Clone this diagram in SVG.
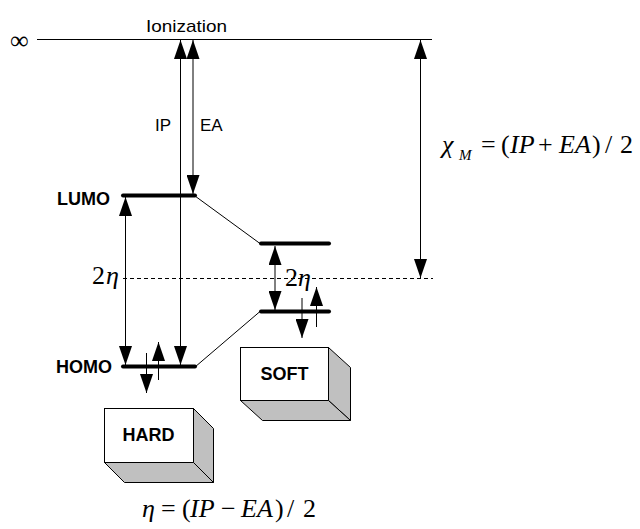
<svg xmlns="http://www.w3.org/2000/svg" width="640" height="529" viewBox="0 0 640 529">
<style>
.thin{stroke:#000;stroke-width:1;fill:none}
.lvl{stroke:#000;stroke-width:4;stroke-linecap:round;fill:none}
.arr{stroke:#000;stroke-width:1;fill:none;marker-end:url(#ah)}
.dbl{stroke:#000;stroke-width:1;fill:none;marker-end:url(#ah);marker-start:url(#ah)}
.dash{stroke:#000;stroke-width:1;stroke-dasharray:4 3;fill:none}
.sans{font-family:"Liberation Sans",Arial,sans-serif;font-size:17px;fill:#000}
.bold{font-family:"Liberation Sans",Arial,sans-serif;font-size:18px;font-weight:bold;fill:#000}
.math{font-family:"Liberation Serif","Times New Roman",serif;font-size:26px;fill:#000}
.it{font-style:italic}
.front{fill:#fff;stroke:#000;stroke-width:1}
.shade{fill:#c0c0c0;stroke:#000;stroke-width:1;stroke-linejoin:round}
</style>
<defs>
<marker id="ah" markerUnits="userSpaceOnUse" markerWidth="19" markerHeight="13" refX="19" refY="6.5" orient="auto-start-reverse">
<path d="M0,0 L19,6.5 L0,13 Z" fill="#000"/>
</marker>
</defs>

<g id="infinity">
<line class="thin" x1="37" y1="39.5" x2="432" y2="39.5"/>
<text class="math" x="10" y="49" font-size="28">∞</text>
<text class="sans" x="146" y="32" font-size="18" textLength="81" lengthAdjust="spacingAndGlyphs">Ionization</text>
</g>

<g id="connectors">
<line class="dbl" x1="180.5" y1="40" x2="180.5" y2="365"/>
<line class="dbl" x1="193" y1="40" x2="193" y2="194"/>
<line class="dbl" x1="125.5" y1="197" x2="125.5" y2="365"/>
<line class="dbl" x1="275" y1="246" x2="275" y2="310"/>
<line class="dbl" x1="420.5" y1="40" x2="420.5" y2="278"/>
<line class="dash" x1="123" y1="278.5" x2="433" y2="278.5"/>
<line class="thin" x1="195" y1="196" x2="260" y2="243.5"/>
<line class="thin" x1="195" y1="367" x2="260" y2="311.5"/>
<line class="arr" x1="158.5" y1="380" x2="158.5" y2="342"/>
<line class="arr" x1="146.5" y1="353" x2="146.5" y2="393"/>
<line class="arr" x1="316.5" y1="327" x2="316.5" y2="287"/>
<line class="arr" x1="302" y1="298" x2="302" y2="338"/>
<text class="sans" x="171" y="131" text-anchor="end">IP</text>
<text class="sans" x="200" y="131">EA</text>
</g>

<g id="lumo">
<line class="lvl" x1="123" y1="195.5" x2="195" y2="195.5"/>
<text class="bold" x="110" y="205" text-anchor="end">LUMO</text>
</g>

<g id="homo">
<line class="lvl" x1="123" y1="366.5" x2="195" y2="366.5"/>
<text class="bold" x="112" y="373" text-anchor="end">HOMO</text>
</g>

<g id="soft-lumo">
<line class="lvl" x1="261" y1="243.5" x2="329" y2="243.5"/>
</g>

<g id="soft-homo">
<line class="lvl" x1="261" y1="311.5" x2="329" y2="311.5"/>
</g>

<g id="eta-labels">
<text class="math" x="92" y="284" font-size="25"><tspan>2</tspan><tspan class="it" dx="1">η</tspan></text>
<text class="math" x="285" y="286" font-size="23"><tspan>2</tspan><tspan class="it">η</tspan></text>
</g>

<g id="soft">
<rect class="front" x="240.5" y="347.5" width="88" height="53"/>
<polygon class="shade" points="328.5,347.5 350.5,367.5 350.5,420.5 328.5,400.5"/>
<polygon class="shade" points="240.5,400.5 328.5,400.5 350.5,420.5 262.5,420.5"/>
<text class="bold" x="284.5" y="380" text-anchor="middle">SOFT</text>
</g>

<g id="hard">
<rect class="front" x="104.5" y="408.5" width="89" height="54"/>
<polygon class="shade" points="193.5,408.5 213.5,428.5 213.5,482.5 193.5,462.5"/>
<polygon class="shade" points="104.5,462.5 193.5,462.5 213.5,482.5 124.5,482.5"/>
<text class="bold" x="148.5" y="441" text-anchor="middle">HARD</text>
</g>

<g id="chi-formula">
<text class="math" y="153"><tspan class="it" x="442">χ</tspan><tspan class="it" x="459" y="160" font-size="15">M</tspan><tspan x="481" y="153">=</tspan><tspan x="501">(</tspan><tspan class="it" x="510">IP</tspan><tspan x="538">+</tspan><tspan class="it" x="559">EA</tspan><tspan x="592">)</tspan><tspan x="605">/</tspan><tspan x="620">2</tspan></text>
</g>

<g id="eta-formula">
<text class="math" y="517"><tspan class="it" x="142">η</tspan><tspan x="161">=</tspan><tspan x="182">(</tspan><tspan class="it" x="190">IP</tspan><tspan x="221">−</tspan><tspan class="it" x="241">EA</tspan><tspan x="275">)</tspan><tspan x="287">/</tspan><tspan x="303">2</tspan></text>
</g>
</svg>
